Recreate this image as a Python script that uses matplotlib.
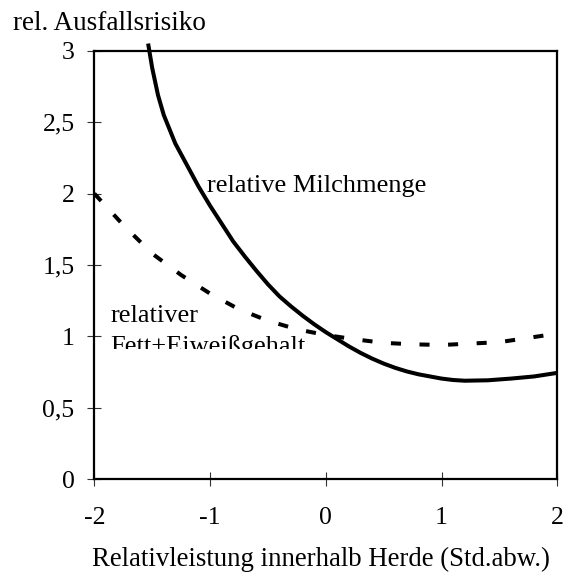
import matplotlib
matplotlib.use("Agg")
import matplotlib.pyplot as plt
from matplotlib.transforms import Bbox, TransformedBbox

# Data
x_milch = [-1.535, -1.5, -1.45, -1.4, -1.3, -1.2, -1.1, -1.0, -0.9, -0.8, -0.7, -0.6,
           -0.5, -0.4, -0.3, -0.2, -0.1, 0.0, 0.1, 0.2, 0.3, 0.4, 0.5, 0.6, 0.7,
           0.8, 0.9, 1.0, 1.1, 1.2, 1.4, 1.6, 1.8, 2.0]
y_milch = [3.05, 2.88, 2.69, 2.55, 2.35, 2.20, 2.05, 1.915, 1.79, 1.665, 1.56, 1.46,
           1.365, 1.28, 1.21, 1.145, 1.085, 1.03, 0.98, 0.93, 0.885, 0.845, 0.81, 0.78,
           0.755, 0.735, 0.72, 0.705, 0.695, 0.69, 0.693, 0.705, 0.72, 0.745]
x_fett = [-2.0, -1.75, -1.5, -1.25, -1.0, -0.75, -0.5, -0.25, 0.0, 0.25, 0.5, 0.75,
          1.0, 1.25, 1.5, 1.75, 2.0]
y_fett = [2.0, 1.78, 1.58, 1.43, 1.30, 1.19, 1.11, 1.05, 1.01, 0.98, 0.955, 0.945,
          0.94, 0.95, 0.96, 0.99, 1.02]
x_ticks = [-2, -1, 0, 1, 2]
x_ticklabels = ["-2", "-1", "0", "1", "2"]
y_ticks = [0, 0.5, 1, 1.5, 2, 2.5, 3]
y_ticklabels = ["0", "0,5", "1", "1,5", "2", "2,5", "3"]

plt.rcParams['font.family'] = ['Liberation Serif', 'DejaVu Serif']

fig = plt.figure(figsize=(5.64, 5.76), dpi=100)
ax = fig.add_axes([94.3/564, 1-479.3/576, (557.3-94.3)/564, (479.3-50.7)/576])

ax.plot(x_milch, y_milch, color='black', lw=2.9, solid_capstyle='butt',
        solid_joinstyle='round', clip_on=False)
ax.plot(x_fett, y_fett, color='black', lw=2.9, dashes=(2.5, 4.6), dash_capstyle='butt')

ax.set_xlim(-2, 2)
ax.set_ylim(0, 3)
ax.set_xticks(x_ticks)
ax.set_xticklabels(x_ticklabels, fontsize=18.5)
ax.set_yticks(y_ticks)
ax.set_yticklabels(y_ticklabels, fontsize=18.5)
ax.tick_params(direction='inout', length=10.5, width=0.8, color='#333333', pad=9)
ax.tick_params(axis='x', pad=15)
for s in ax.spines.values():
    s.set_linewidth(1.6)

fig.text(13/564, 1-23/576, "rel. Ausfallsrisiko", fontsize=19.5, ha='left', va='center')
fig.text(92/564, 1-566/576, "Relativleistung innerhalb Herde (Std.abw.)",
         fontsize=19.3, ha='left', va='baseline')

ax.text(-1.03, 2.05, "relative Milchmenge", fontsize=19, ha='left', va='center')
t = ax.text(-1.86, (479.3 - 353) / 142.9, "relativer\nFett+Eiweißgehalt", fontsize=19,
            ha='left', va='baseline', linespacing=1.45)
t.set_clip_box(TransformedBbox(Bbox([[-2.0, 0.91], [2.0, 3.0]]), ax.transData))
t.set_clip_on(True)

fig.savefig("out.png", dpi=100)
